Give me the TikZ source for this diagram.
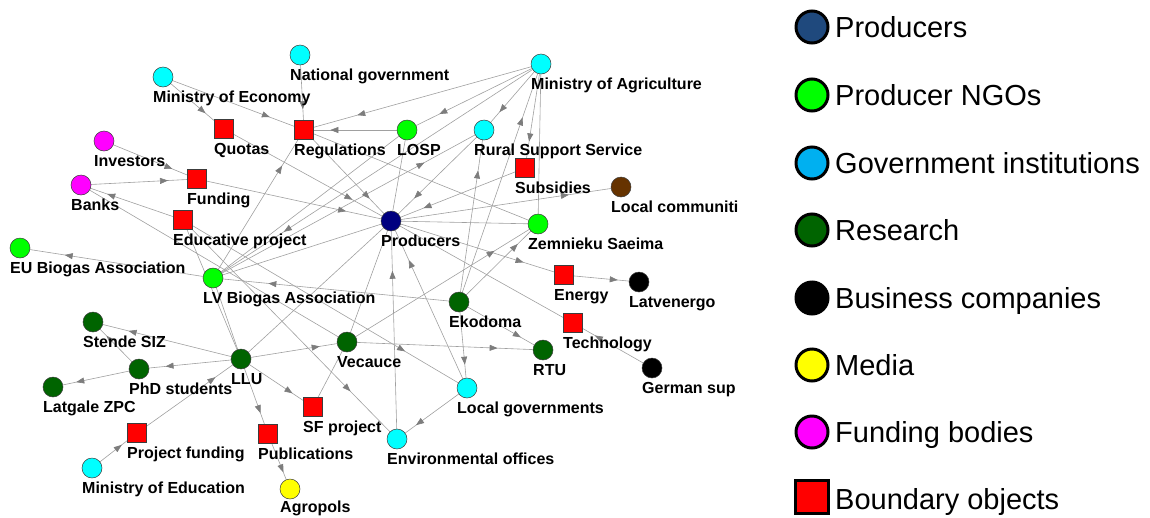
\documentclass[tikz,border=0pt]{standalone}
\usepackage{fontspec}
\setmainfont{Liberation Sans}
\usetikzlibrary{arrows.meta,decorations.markings}
\pgfdeclarelayer{background}
\pgfsetlayers{background,main}
\definecolor{prodnavy}{RGB}{0,0,128}
\definecolor{ngogreen}{RGB}{0,255,0}
\definecolor{govcyan}{RGB}{0,255,255}
\definecolor{resgreen}{RGB}{0,100,0}
\definecolor{commbrown}{RGB}{102,51,0}
\definecolor{fundpink}{RGB}{255,0,255}
\definecolor{mediayellow}{RGB}{255,255,0}
\definecolor{bobjred}{RGB}{255,0,0}
\definecolor{nodeline}{RGB}{60,60,60}
\definecolor{linkgray}{RGB}{160,160,160}
\definecolor{arrowgray}{RGB}{125,125,125}
\definecolor{keyblue}{RGB}{31,73,125}
\definecolor{keycyan}{RGB}{0,176,240}
\begin{document}
\begin{tikzpicture}[x=1pt,y=-1pt,
  actor/.style={circle,draw=nodeline,line width=0.5pt,minimum size=20pt,inner sep=0pt},
  bobj/.style={rectangle,draw=nodeline,line width=0.5pt,fill=bobjred,minimum size=19pt,inner sep=0pt},
  prodnode/.style={actor,fill=prodnavy},
  ngo/.style={actor,fill=ngogreen},
  gov/.style={actor,fill=govcyan},
  res/.style={actor,fill=resgreen},
  biz/.style={actor,fill=black},
  medianode/.style={actor,fill=mediayellow},
  fundnode/.style={actor,fill=fundpink},
  comm/.style={actor,fill=commbrown},
  lbl/.style={font=\bfseries\fontsize{16}{16}\selectfont,inner sep=0pt,anchor=north west},
  tie/.style={draw=linkgray,line width=0.6pt},
  link/.style={tie,postaction={decorate},decoration={markings,
    mark=at position 0.8 with {\arrow{Triangle[length=8pt,width=6pt,color=arrowgray]}}}},
  key/.style={circle,draw=black,line width=3pt,minimum size=32pt,inner sep=0pt},
  keytext/.style={font=\fontsize{29}{29}\selectfont,inner sep=0pt,anchor=base west}]
\useasboundingbox (0,0) rectangle (1150,517);

% actors
\node[gov] (moe) at (163,77) {};
\node[gov] (natgov) at (300,55) {};
\node[gov] (moa) at (541,64) {};
\node[bobj] (quotas) at (224,129) {};
\node[bobj] (regul) at (304,130) {};
\node[ngo] (losp) at (407,130) {};
\node[gov] (rss) at (484,130) {};
\node[bobj] (subs) at (525,168) {};
\node[comm] (loccom) at (621,187) {};
\node[fundnode] (invest) at (104,141) {};
\node[bobj] (funding) at (197,179) {};
\node[fundnode] (banks) at (81,185) {};
\node[bobj] (educ) at (183,220) {};
\node[ngo] (eubio) at (20,248) {};
\node[prodnode] (producers) at (391,221) {};
\node[ngo] (zemn) at (538,224) {};
\node[ngo] (lvbio) at (213,278) {};
\node[bobj] (energy) at (564,275) {};
\node[biz] (latv) at (639,282) {};
\node[res] (ekod) at (459,302) {};
\node[bobj] (techn) at (573,323) {};
\node[res] (stende) at (93,322) {};
\node[res] (vecauce) at (347,342) {};
\node[res] (llu) at (241,359) {};
\node[res] (phd) at (139,369) {};
\node[res] (rtu) at (543,350) {};
\node[biz] (german) at (652,368) {};
\node[res] (latgale) at (53,387) {};
\node[gov] (locgov) at (467,388) {};
\node[bobj] (sfproj) at (313,407) {};
\node[bobj] (projfund) at (137,433) {};
\node[bobj] (publ) at (268,434) {};
\node[gov] (envoff) at (397,439) {};
\node[gov] (minedu) at (92,468) {};
\node[medianode] (agropols) at (290,489) {};

% ties
\begin{pgfonlayer}{background}
\draw[link] (moe) -- (quotas);
\draw[link] (moe) -- (regul);
\draw[link] (natgov) -- (regul);
\draw[link] (moa) -- (regul);
\draw[link] (moa) -- (losp);
\draw[link] (moa) -- (rss);
\draw[link] (moa) -- (subs);
\draw[link] (moa) -- (lvbio);
\draw[tie] (moa) -- (zemn);
\draw[link] (losp) -- (regul);
\draw[tie] (losp) -- (producers);
\draw[tie] (losp) -- (lvbio);
\draw[link] (invest) -- (funding);
\draw[link] (banks) -- (funding);
\draw[link] (educ) -- (banks);
\draw[tie] (banks) -- (vecauce);
\draw[link] (lvbio) -- (eubio);
\draw[link] (lvbio) -- (regul);
\draw[link] (lvbio) -- (rss);
\draw[tie] (lvbio) -- (producers);
\draw[tie] (lvbio) -- (llu);
\draw[link] (quotas) -- (producers);
\draw[link] (regul) -- (producers);
\draw[tie] (regul) -- (zemn);
\draw[link] (funding) -- (producers);
\draw[link] (rss) -- (producers);
\draw[link] (subs) -- (producers);
\draw[link] (producers) -- (loccom);
\draw[tie] (producers) -- (zemn);
\draw[link] (producers) -- (energy);
\draw[tie] (producers) -- (techn);
\draw[link] (energy) -- (latv);
\draw[link] (german) -- (techn);
\draw[link] (ekod) -- (moa);
\draw[link] (ekod) -- (rss);
\draw[link] (ekod) -- (lvbio);
\draw[link] (ekod) -- (zemn);
\draw[link] (ekod) -- (rtu);
\draw[link] (ekod) -- (locgov);
\draw[link] (vecauce) -- (zemn);
\draw[link] (vecauce) -- (rtu);
\draw[tie] (vecauce) -- (producers);
\draw[tie] (sfproj) -- (vecauce);
\draw[link] (locgov) -- (envoff);
\draw[link] (locgov) -- (producers);
\draw[link] (envoff) -- (producers);
\draw[link] (educ) -- (locgov);
\draw[link] (educ) -- (envoff);
\draw[tie] (educ) -- (llu);
\draw[tie] (llu) -- (producers);
\draw[link] (llu) -- (stende);
\draw[link] (llu) -- (phd);
\draw[link] (phd) -- (stende);
\draw[link] (phd) -- (latgale);
\draw[link] (llu) -- (vecauce);
\draw[link] (llu) -- (sfproj);
\draw[link] (llu) -- (publ);
\draw[link] (publ) -- (agropols);
\draw[link] (projfund) -- (llu);
\draw[link] (minedu) -- (projfund);
\end{pgfonlayer}

% labels
\node[lbl] (t-moe) at ([shift={(-10,14)}]moe) {Ministry of Economy};
\node[lbl] (t-natgov) at ([shift={(-10,14)}]natgov) {National government};
\node[lbl] (t-moa) at ([shift={(-10,14)}]moa) {Ministry of Agriculture};
\node[lbl] (t-quotas) at ([shift={(-10,14)}]quotas) {Quotas};
\node[lbl] (t-regul) at ([shift={(-10,14)}]regul) {Regulations};
\node[lbl] (t-losp) at ([shift={(-10,14)}]losp) {LOSP};
\node[lbl] (t-rss) at ([shift={(-10,14)}]rss) {Rural Support Service};
\node[lbl] (t-subs) at ([shift={(-10,14)}]subs) {Subsidies};
\node[lbl] (t-loccom) at ([shift={(-10,14)}]loccom) {Local communiti};
\node[lbl] (t-invest) at ([shift={(-10,14)}]invest) {Investors};
\node[lbl] (t-funding) at ([shift={(-10,14)}]funding) {Funding};
\node[lbl] (t-banks) at ([shift={(-10,14)}]banks) {Banks};
\node[lbl] (t-educ) at ([shift={(-10,14)}]educ) {Educative project};
\node[lbl] (t-eubio) at ([shift={(-10,14)}]eubio) {EU Biogas Association};
\node[lbl] (t-producers) at ([shift={(-10,14)}]producers) {Producers};
\node[lbl] (t-zemn) at ([shift={(-10,14)}]zemn) {Zemnieku Saeima};
\node[lbl] (t-lvbio) at ([shift={(-10,14)}]lvbio) {LV Biogas Association};
\node[lbl] (t-energy) at ([shift={(-10,14)}]energy) {Energy};
\node[lbl] (t-latv) at ([shift={(-10,14)}]latv) {Latvenergo};
\node[lbl] (t-ekod) at ([shift={(-10,14)}]ekod) {Ekodoma};
\node[lbl] (t-techn) at ([shift={(-10,14)}]techn) {Technology};
\node[lbl] (t-stende) at ([shift={(-10,14)}]stende) {Stende SIZ};
\node[lbl] (t-vecauce) at ([shift={(-10,14)}]vecauce) {Vecauce};
\node[lbl] (t-llu) at ([shift={(-10,14)}]llu) {LLU};
\node[lbl] (t-phd) at ([shift={(-10,14)}]phd) {PhD students};
\node[lbl] (t-rtu) at ([shift={(-10,14)}]rtu) {RTU};
\node[lbl] (t-german) at ([shift={(-10,14)}]german) {German sup};
\node[lbl] (t-latgale) at ([shift={(-10,14)}]latgale) {Latgale ZPC};
\node[lbl] (t-locgov) at ([shift={(-10,14)}]locgov) {Local governments};
\node[lbl] (t-sfproj) at ([shift={(-10,14)}]sfproj) {SF project};
\node[lbl] (t-projfund) at ([shift={(-10,14)}]projfund) {Project funding};
\node[lbl] (t-publ) at ([shift={(-10,14)}]publ) {Publications};
\node[lbl] (t-envoff) at ([shift={(-10,14)}]envoff) {Environmental offices};
\node[lbl] (t-minedu) at ([shift={(-10,14)}]minedu) {Ministry of Education};
\node[lbl] (t-agropols) at ([shift={(-10,12)}]agropols) {Agropols};

% legend
\node[key,fill=keyblue] (k1) at (812,27) {};
\node[key,fill=ngogreen] (k2) at (812,95) {};
\node[key,fill=keycyan] (k3) at (812,163) {};
\node[key,fill=resgreen] (k4) at (812,230) {};
\node[key,fill=black] (k5) at (812,298) {};
\node[key,fill=mediayellow] (k6) at (812,365) {};
\node[key,fill=fundpink] (k7) at (812,432) {};
\node[key,rectangle,fill=bobjred,minimum size=33pt] (k8) at (812,497) {};
\node[keytext] (kt1) at (835,37) {Producers};
\node[keytext] (kt2) at (835,105) {Producer NGOs};
\node[keytext] (kt3) at (835,173) {Government institutions};
\node[keytext] (kt4) at (835,240) {Research};
\node[keytext] (kt5) at (835,308) {Business companies};
\node[keytext] (kt6) at (835,375) {Media};
\node[keytext] (kt7) at (835,442) {Funding bodies};
\node[keytext] (kt8) at (835,509) {Boundary objects};
\end{tikzpicture}
\end{document}
